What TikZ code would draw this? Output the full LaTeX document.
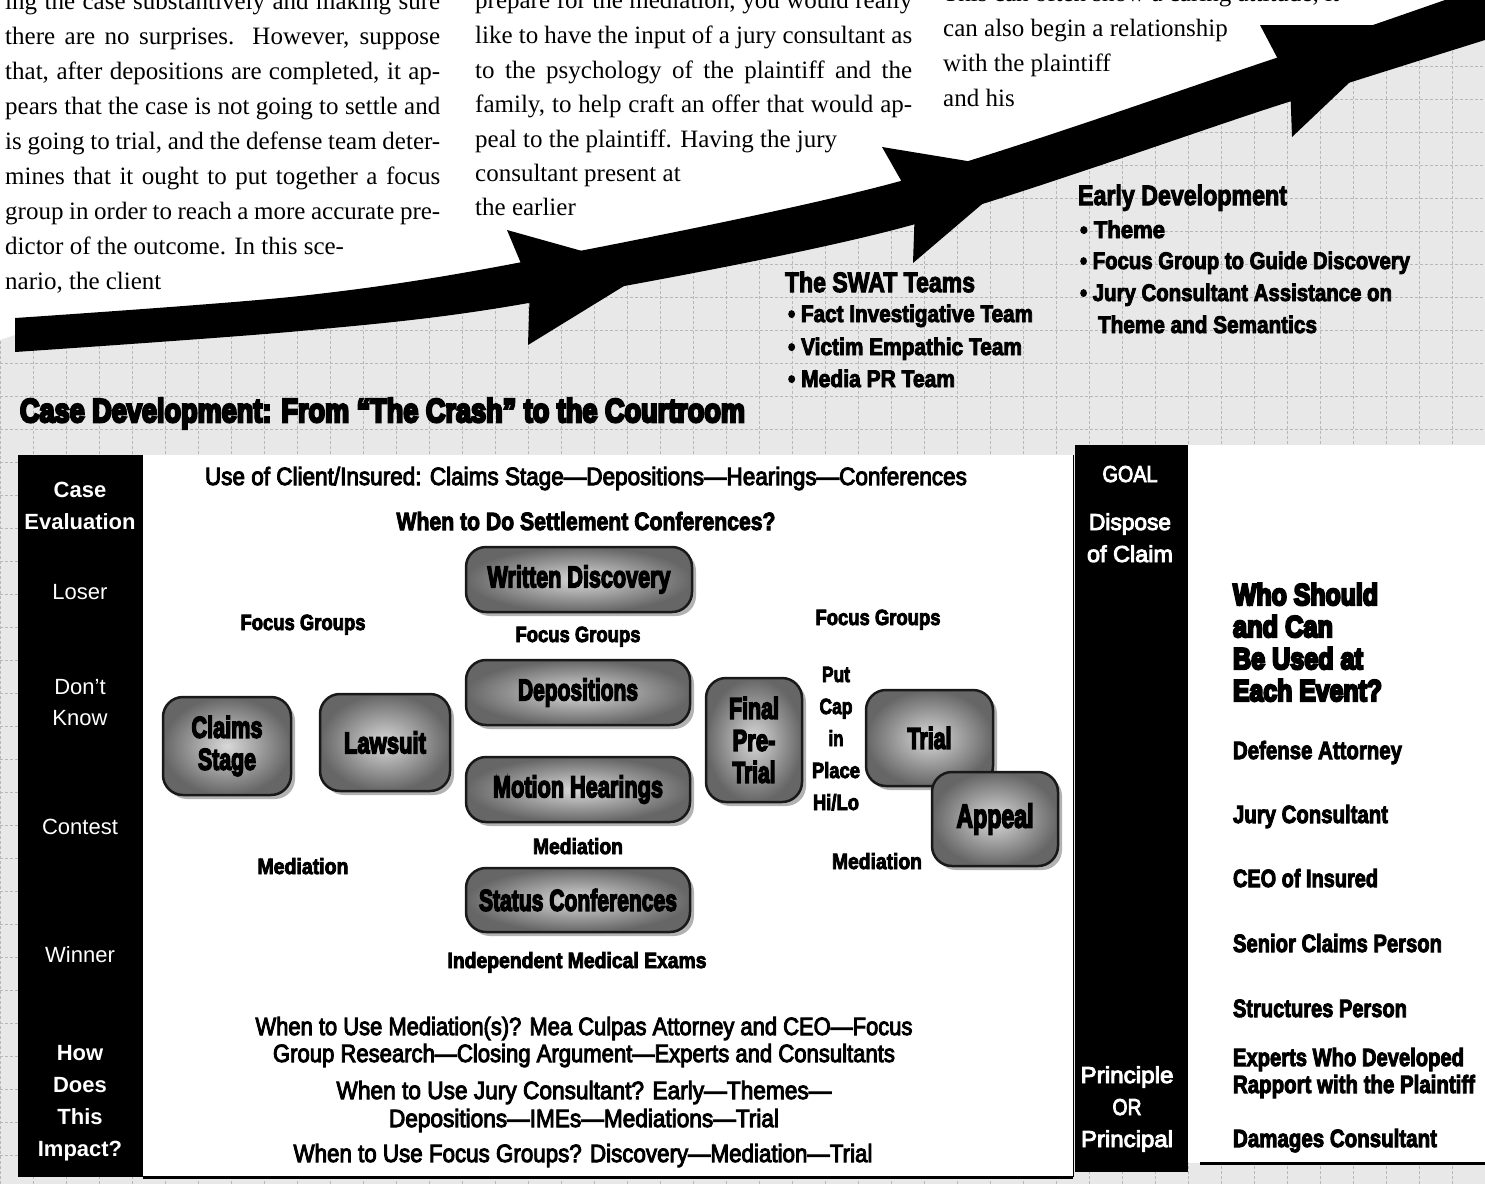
\documentclass[tikz,border=0pt]{standalone}
\usepackage{fontspec}
\usepackage{graphicx}
\setmainfont{Liberation Serif}
\newfontfamily\sansf{Liberation Sans}
\newfontfamily\medf[FakeBold=4]{Liberation Sans}
\newfontfamily\pillf[FakeBold=5.5]{Liberation Sans}
\newfontfamily\heavyf[FakeBold=8]{Liberation Sans}
\usetikzlibrary{shadows}
\newcommand\fitw[2]{\resizebox{#1pt}{\height}{#2}}
\newcommand\jline[2]{\makebox[#1pt][s]{#2}}
\newcommand\Hv{\heavyf\bfseries}
\newcommand\Pl{\pillf\bfseries}
\newcommand\Bd{\medf\bfseries}
\newcommand\Md{\medf}
\tikzset{
  lab/.style={inner sep=0, outer sep=0, anchor=base},
  body/.style={inner sep=0, anchor=base west, font=\fontsize{25}{35}\selectfont},
  colw/.style={lab, text=white, font=\sansf\fontsize{22}{26}\selectfont},
  colwb/.style={lab, text=white, font=\sansf\bfseries\fontsize{22}{26}\selectfont},
  goalw/.style={lab, text=white, font=\Md\fontsize{23}{27}\selectfont},
  tbl/.style={lab, font=\Md\fontsize{25}{30}\selectfont},
  tblb/.style={lab, font=\Bd\fontsize{25}{30}\selectfont},
  sm/.style={lab, font=\Bd\fontsize{22}{26}\selectfont},
  who/.style={lab, anchor=base west, font=\Hv\fontsize{30}{32}\selectfont},
  wholist/.style={lab, anchor=base west, font=\Bd\fontsize{25}{30}\selectfont},
  head/.style={lab, anchor=base west, font=\Bd\fontsize{28}{32}\selectfont},
  bul/.style={lab, anchor=base west, font=\Bd\fontsize{24}{30}\selectfont},
  titlef/.style={lab, anchor=base west, font=\Hv\fontsize{33}{36}\selectfont},
  pill/.style={draw=black!90, line width=2.5pt, rounded corners=20pt,
    inner color=gray!30, outer color=gray!80!black, inner sep=0pt,
    drop shadow={opacity=0.6, shadow xshift=4pt, shadow yshift=-4pt},
    font=\Pl\fontsize{30}{32}\selectfont, align=center},
  blackcol/.style={fill=black, inner sep=0pt, anchor=north west},
  gridbg/.style={fill=black!9},
  gridln/.style={draw=black!28, line width=0.7pt, step=33pt, dash pattern=on 3pt off 2pt},
  arrowfill/.style={fill=black},
}
\begin{document}
\begin{tikzpicture}[x=1pt,y=-1pt]
\useasboundingbox (0,0) rectangle (1485,1184);
\clip (0,0) rectangle (1485,1184);
\fill[white] (0,0) rectangle (1485,1184);

% graph-paper background below the arrow
\begin{scope}
\clip (0,1184) -- (0,340) -- (15,335) -- (300,313) -- (517,284) -- (897,205) -- (1276,82) -- (1485,14) -- (1485,1184) -- cycle;
\fill[gridbg] (0,0) rectangle (1485,1184);
\draw[gridln] (0,0) grid (1485,1184);
\end{scope}

% body text, column 1
\node[body] (a0) at (5,9) {\jline{435}{ing the case substantively and making sure}};
\node[body] (a1) at (5,44) {\jline{435}{there are no surprises. However, suppose}};
\node[body] (a2) at (5,79) {\jline{435}{that, after depositions are completed, it ap-}};
\node[body] (a3) at (5,114) {\jline{435}{pears that the case is not going to settle and}};
\node[body] (a4) at (5,149) {\jline{435}{is going to trial, and the defense team deter-}};
\node[body] (a5) at (5,184) {\jline{435}{mines that it ought to put together a focus}};
\node[body] (a6) at (5,219) {\jline{435}{group in order to reach a more accurate pre-}};
\node[body] (a7) at (5,254) {dictor of the outcome. In this sce-};
\node[body] (a8) at (5,289) {nario, the client};
% column 2
\node[body] (b0) at (475,8) {\jline{437}{prepare for the mediation, you would really}};
\node[body] (b1) at (475,43) {\jline{437}{like to have the input of a jury consultant as}};
\node[body] (b2) at (475,78) {\jline{437}{to the psychology of the plaintiff and the}};
\node[body] (b3) at (475,112) {\jline{437}{family, to help craft an offer that would ap-}};
\node[body] (b4) at (475,147) {peal to the plaintiff. Having the jury};
\node[body] (b5) at (475,181) {consultant present at};
\node[body] (b6) at (475,215) {the earlier};
% column 3
\node[body] (c0) at (943,1) {This can often show a caring attitude, it};
\node[body] (c1) at (943,36) {can also begin a relationship};
\node[body] (c2) at (943,71) {with the plaintiff};
\node[body] (c3) at (943,106) {and his};

% the big swoosh arrow
\fill[arrowfill] plot[smooth] coordinates {(15,318) (300,296) (517,263) (897,182) (1276,58) (1485,-14)}
  -- plot[smooth] coordinates {(1485,40) (1276,106) (897,229) (517,305) (300,331) (15,352)} -- cycle;
\fill[arrowfill] (507,230) -- (650,270) -- (528,345) -- (530,285) -- cycle;
\fill[arrowfill] (882,147) -- (1022,170) -- (913,263) -- (915,205) -- cycle;
\fill[arrowfill] (1260,25) -- (1410,25) -- (1292,137) -- (1290,82) -- cycle;

% SWAT teams
\node[head] (swat) at (785,292) {\fitw{190}{The SWAT Teams}};
\node[bul] (swat1) at (788,322) {\fitw{245}{• Fact Investigative Team}};
\node[bul] (swat2) at (788,355) {\fitw{234}{• Victim Empathic Team}};
\node[bul] (swat3) at (788,387) {\fitw{167}{• Media PR Team}};
% early development
\node[head] (early) at (1078,205) {\fitw{209}{Early Development}};
\node[bul] (early1) at (1080,238) {\fitw{85}{• Theme}};
\node[bul] (early2) at (1080,269) {\fitw{330}{• Focus Group to Guide Discovery}};
\node[bul] (early3) at (1080,301) {\fitw{312}{• Jury Consultant Assistance on}};
\node[bul] (early4) at (1098,333) {\fitw{219}{Theme and Semantics}};

% title
\node[titlef] (title) at (20,422) {\fitw{725}{Case Development: From “The Crash” to the Courtroom}};

% frames
\node[blackcol, minimum width=125pt, minimum height=722pt] (leftcol) at (18,455) {};
\node[fill=white, inner sep=0pt, anchor=north west, minimum width=930pt, minimum height=722pt] (board) at (143,455) {};
\draw[line width=1pt] (board.north east) -- (board.south east);
\draw[line width=3pt] (board.south west) -- (board.south east);
\node[blackcol, minimum width=113pt, minimum height=727pt] (goalcol) at (1075,445) {};
\node[fill=white, inner sep=0pt, anchor=north west, minimum width=297pt, minimum height=718pt] (whopanel) at (1188,445) {};
\draw[line width=3pt] ([xshift=12pt]whopanel.south west) -- (whopanel.south east);

% left column labels
\node[colwb] (l1) at (80,497) {Case};
\node[colwb] (l2) at (80,529) {Evaluation};
\node[colw] (l3) at (80,599) {Loser};
\node[colw] (l4) at (80,694) {Don’t};
\node[colw] (l5) at (80,725) {Know};
\node[colw] (l6) at (80,834) {Contest};
\node[colw] (l7) at (80,962) {Winner};
\node[colwb] (l8) at (80,1060) {How};
\node[colwb] (l9) at (80,1092) {Does};
\node[colwb] (l10) at (80,1124) {This};
\node[colwb] (l11) at (80,1156) {Impact?};

% goal column labels
\node[goalw] (g1) at (1130,482) {\fitw{55}{GOAL}};
\node[goalw] (g2) at (1130,530) {\fitw{82}{Dispose}};
\node[goalw] (g3) at (1130,562) {\fitw{86}{of Claim}};
\node[goalw] (g4) at (1127,1083) {\fitw{93}{Principle}};
\node[goalw] (g5) at (1127,1115) {\fitw{29}{OR}};
\node[goalw] (g6) at (1127,1147) {\fitw{92}{Principal}};

% board texts
\node[tbl] (use) at (586,485) {\fitw{762}{Use of Client/Insured: Claims Stage—Depositions—Hearings—Conferences}};
\node[tblb] (when) at (586,530) {\fitw{379}{When to Do Settlement Conferences?}};

\node[pill, minimum width=226pt, minimum height=65pt] (wd) at (579,579.5) {\fitw{183}{Written Discovery}};
\node[pill, minimum width=224pt, minimum height=65pt] (dep) at (578,692.5) {\fitw{120}{Depositions}};
\node[pill, minimum width=224pt, minimum height=65pt] (mh) at (578,789.5) {\fitw{170}{Motion Hearings}};
\node[pill, minimum width=224pt, minimum height=64pt] (sc) at (578,900) {\fitw{198}{Status Conferences}};
\node[pill, minimum width=128pt, minimum height=98pt] (cs) at (227,746) {\fitw{71}{Claims}\\\fitw{58}{Stage}};
\node[pill, minimum width=130pt, minimum height=97pt] (ls) at (385,742.5) {\fitw{82}{Lawsuit}};
\node[pill, minimum width=96pt, minimum height=124pt] (fpt) at (754,740) {\fitw{50}{Final}\\\fitw{43}{Pre-}\\\fitw{43}{Trial}};
\node[pill, minimum width=127pt, minimum height=96pt] (trial) at (929.5,738) {\fitw{44}{Trial}};
\node[pill, minimum width=126pt, minimum height=94pt, font=\Pl\fontsize{33}{36}\selectfont] (appeal) at (995,819) {\fitw{77}{Appeal}};

\node[sm] (fg1) at (303,630) {\fitw{125}{Focus Groups}};
\node[sm] (fg2) at (578,642) {\fitw{125}{Focus Groups}};
\node[sm] (fg3) at (878,625) {\fitw{125}{Focus Groups}};
\node[sm] (cap1) at (836,682) {\fitw{28}{Put}};
\node[sm] (cap2) at (836,714) {\fitw{33}{Cap}};
\node[sm] (cap3) at (836,746) {\fitw{15}{in}};
\node[sm] (cap4) at (836,778) {\fitw{48}{Place}};
\node[sm] (cap5) at (836,810) {\fitw{46}{Hi/Lo}};
\node[sm] (med1) at (303,874) {\fitw{91}{Mediation}};
\node[sm] (med2) at (578,854) {\fitw{90}{Mediation}};
\node[sm] (med3) at (877,869) {\fitw{90}{Mediation}};
\node[sm] (ime) at (577,968) {\fitw{259}{Independent Medical Exams}};

\node[tbl] (q1) at (584,1035) {\fitw{657}{When to Use Mediation(s)? Mea Culpas Attorney and CEO—Focus}};
\node[tbl] (q2) at (584,1062) {\fitw{622}{Group Research—Closing Argument—Experts and Consultants}};
\node[tbl] (q3) at (584,1099) {\fitw{495}{When to Use Jury Consultant? Early—Themes—}};
\node[tbl] (q4) at (584,1127) {\fitw{390}{Depositions—IMEs—Mediations—Trial}};
\node[tbl] (q5) at (583,1162) {\fitw{579}{When to Use Focus Groups? Discovery—Mediation—Trial}};

% who panel
\node[who] (w1) at (1233,605) {\fitw{145}{Who Should}};
\node[who] (w2) at (1233,637) {\fitw{100}{and Can}};
\node[who] (w3) at (1233,669) {\fitw{130}{Be Used at}};
\node[who] (w4) at (1233,701) {\fitw{149}{Each Event?}};
\node[wholist] (p1) at (1233,759) {\fitw{169}{Defense Attorney}};
\node[wholist] (p2) at (1233,823) {\fitw{155}{Jury Consultant}};
\node[wholist] (p3) at (1233,887) {\fitw{145}{CEO of Insured}};
\node[wholist] (p4) at (1233,952) {\fitw{209}{Senior Claims Person}};
\node[wholist] (p5) at (1233,1017) {\fitw{174}{Structures Person}};
\node[wholist] (p6) at (1233,1066) {\fitw{231}{Experts Who Developed}};
\node[wholist] (p7) at (1233,1093) {\fitw{242}{Rapport with the Plaintiff}};
\node[wholist] (p8) at (1233,1147) {\fitw{204}{Damages Consultant}};
\end{tikzpicture}
\end{document}
